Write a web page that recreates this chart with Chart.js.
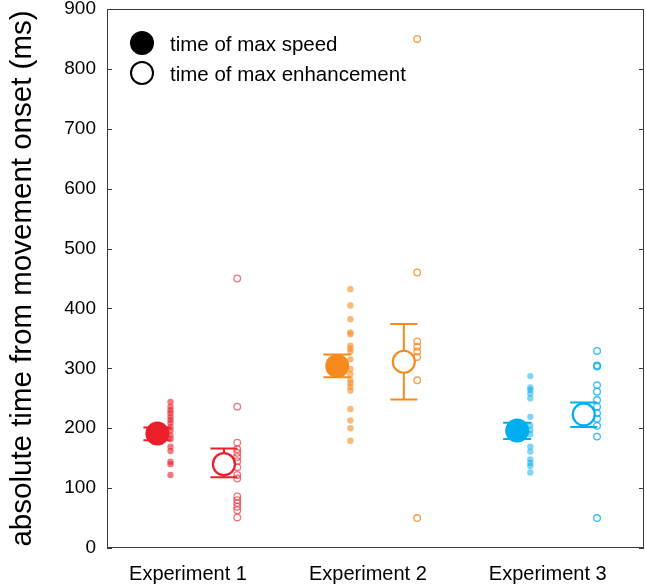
<!DOCTYPE html>
<html>
<head>
<meta charset="utf-8">
<script src="https://cdn.jsdelivr.net/npm/chart.js@4/dist/chart.umd.min.js"></script>
<style>
html,body{margin:0;padding:0;background:#fff;}
canvas{display:block;}
</style>
</head>
<body>
<canvas id="c" width="646" height="588"></canvas>
<script>
// ---- data ----
const CATEGORIES = ['Experiment 1', 'Experiment 2', 'Experiment 3'];
const Y_TICKS = [0, 100, 200, 300, 400, 500, 600, 700, 800, 900];
const LEGEND_LABELS = ['time of max speed', 'time of max enhancement'];

// individual subjects: time of max speed
const SPEED_E1 = [244, 236, 230, 225, 219, 214, 209, 202, 196, 188, 182, 169, 162, 144, 140, 122];
const SPEED_E2 = [432, 405, 382, 360, 357, 338, 333, 328, 315, 299, 290, 280, 275, 269, 263, 232, 213, 200, 179];
const SPEED_E3 = [287, 268, 264, 258, 250, 219, 205, 197, 190, 169, 161, 148, 142, 137, 126];
// individual subjects: time of max enhancement
const ENH_E1 = [450, 236, 176, 165, 159, 152, 145, 135, 122, 116, 86, 80, 75, 69, 63, 51];
const ENH_E2 = [850, 460, 345, 336, 328, 319, 280, 50];
const ENH_E3 = [329, 305, 303, 272, 261, 247, 236, 225, 216, 204, 186, 50];

// group means and error bars
const SPEED_MEAN = [191, 304, 196];
const SPEED_LO   = [180, 285, 182];
const SPEED_HI   = [201, 323, 209];
const ENH_MEAN   = [140, 311, 223];
const ENH_LO     = [118, 248, 202];
const ENH_HI     = [166, 374, 243];

// ---- styles ----
const COLORS = ['#ea1f2a', '#f68a1f', '#00adee'];
const DOT_FILL = ['rgba(236,40,50,0.62)', 'rgba(246,140,35,0.6)', 'rgba(0,173,238,0.5)'];
const DOT_LINE = ['rgba(236,40,50,0.65)', 'rgba(246,140,35,0.85)', 'rgba(0,173,238,0.8)'];
const FONT = 'Liberation Sans, Arial, Helvetica, sans-serif';
const OFF_MEAN_S = -0.17, OFF_DOT_S = -0.097, OFF_MEAN_E = 0.2, OFF_DOT_E = 0.274;

const speedSubj = [SPEED_E1, SPEED_E2, SPEED_E3];
const enhSubj = [ENH_E1, ENH_E2, ENH_E3];

const datasets = [];
datasets.push({
  label: LEGEND_LABELS[0],
  data: SPEED_MEAN.map((v, i) => ({x: i + 1 + OFF_MEAN_S, y: v})),
  pointRadius: 12, pointHoverRadius: 12,
  backgroundColor: COLORS, borderColor: COLORS, borderWidth: 0,
  order: 0
});
datasets.push({
  label: LEGEND_LABELS[1],
  data: ENH_MEAN.map((v, i) => ({x: i + 1 + OFF_MEAN_E, y: v})),
  pointRadius: 11, pointHoverRadius: 11,
  backgroundColor: '#ffffff', borderColor: COLORS, borderWidth: 2.2,
  order: 0
});
for (let i = 0; i < 3; i++) {
  datasets.push({
    label: 'speed subjects ' + CATEGORIES[i],
    data: speedSubj[i].map(v => ({x: i + 1 + OFF_DOT_S, y: v})),
    pointRadius: 3.2, borderWidth: 0,
    backgroundColor: DOT_FILL[i], borderColor: DOT_FILL[i],
    order: 2
  });
  datasets.push({
    label: 'enhancement subjects ' + CATEGORIES[i],
    data: enhSubj[i].map(v => ({x: i + 1 + OFF_DOT_E, y: v})),
    pointRadius: 3.3, borderWidth: 1.3,
    backgroundColor: 'rgba(255,255,255,0)', borderColor: DOT_LINE[i],
    order: 2
  });
}

const errorBars = {
  id: 'errorBars',
  beforeDatasetsDraw(chart) {
    const ctx = chart.ctx, xs = chart.scales.x, ys = chart.scales.y;
    const groups = [
      {mean: SPEED_MEAN, lo: SPEED_LO, hi: SPEED_HI, off: OFF_MEAN_S, cap: 14},
      {mean: ENH_MEAN, lo: ENH_LO, hi: ENH_HI, off: OFF_MEAN_E, cap: 13.5}
    ];
    ctx.save();
    ctx.lineWidth = 2;
    groups.forEach(g => {
      g.mean.forEach((m, i) => {
        const x = xs.getPixelForValue(i + 1 + g.off);
        const y1 = ys.getPixelForValue(g.lo[i]);
        const y2 = ys.getPixelForValue(g.hi[i]);
        ctx.strokeStyle = COLORS[i];
        ctx.beginPath();
        ctx.moveTo(x, y1); ctx.lineTo(x, y2);
        ctx.moveTo(x - g.cap, y1); ctx.lineTo(x + g.cap, y1);
        ctx.moveTo(x - g.cap, y2); ctx.lineTo(x + g.cap, y2);
        ctx.stroke();
      });
    });
    ctx.restore();
  }
};

const boxAndLegend = {
  id: 'boxAndLegend',
  afterDraw(chart) {
    const ctx = chart.ctx, a = chart.chartArea, ys = chart.scales.y;
    ctx.save();
    ctx.strokeStyle = '#3a3a3a';
    ctx.lineWidth = 1;
    ctx.strokeRect(Math.round(a.left) + 0.5, Math.round(a.top) + 0.5,
                   Math.round(a.right - a.left) - 1, Math.round(a.bottom - a.top) - 1);
    ctx.beginPath();
    Y_TICKS.forEach(v => {
      const y = Math.round(ys.getPixelForValue(v)) + 0.5;
      ctx.moveTo(a.left, y); ctx.lineTo(a.left + 5, y);
      ctx.moveTo(a.right, y); ctx.lineTo(a.right - 5, y);
    });
    ctx.stroke();
    // legend
    const lx = a.left + 35, ly1 = a.top + 34, ly2 = a.top + 64;
    ctx.fillStyle = '#000';
    ctx.beginPath(); ctx.arc(lx, ly1, 12, 0, Math.PI * 2); ctx.fill();
    ctx.strokeStyle = '#000'; ctx.lineWidth = 2;
    ctx.beginPath(); ctx.arc(lx, ly2, 11, 0, Math.PI * 2); ctx.stroke();
    ctx.font = '20.5px ' + FONT;
    ctx.textBaseline = 'middle';
    ctx.textAlign = 'left';
    ctx.fillText(LEGEND_LABELS[0], lx + 28, ly1 + 2);
    ctx.fillText(LEGEND_LABELS[1], lx + 28, ly2 + 2);
    ctx.restore();
  }
};

function zeroPad(scale) {
  scale.paddingLeft = 0; scale.paddingRight = 0;
  scale.paddingTop = 0; scale.paddingBottom = 0;
}

new Chart(document.getElementById('c'), {
  type: 'scatter',
  data: {datasets},
  options: {
    responsive: false,
    animation: false,
    events: [],
    layout: {autoPadding: false, padding: {left: 0, right: 2, top: 9, bottom: 0}},
    plugins: {legend: {display: false}, tooltip: {enabled: false}},
    scales: {
      x: {
        type: 'linear', min: 0.55, max: 3.535,
        afterBuildTicks(scale) { scale.ticks = [1, 2, 3].map(v => ({value: v})); },
        afterFit(scale) { scale.height = 40; zeroPad(scale); },
        grid: {display: false},
        border: {display: false},
        ticks: {
          color: '#000', font: {family: FONT, size: 20}, padding: 6,
          maxRotation: 0, autoSkip: false,
          callback: (v) => CATEGORIES[Math.round(v) - 1]
        }
      },
      y: {
        min: 0, max: 900,
        afterBuildTicks(scale) { scale.ticks = Y_TICKS.map(v => ({value: v})); },
        afterFit(scale) { scale.width = 107; zeroPad(scale); },
        grid: {display: false},
        border: {display: false},
        ticks: {color: '#000', font: {family: FONT, size: 19}, padding: 3},
        title: {
          display: true, text: 'absolute time from movement onset (ms)',
          color: '#000', font: {family: FONT, size: 29.5}, padding: {top: 5, bottom: 0}
        }
      }
    }
  },
  plugins: [errorBars, boxAndLegend]
});
</script>
</body>
</html>
